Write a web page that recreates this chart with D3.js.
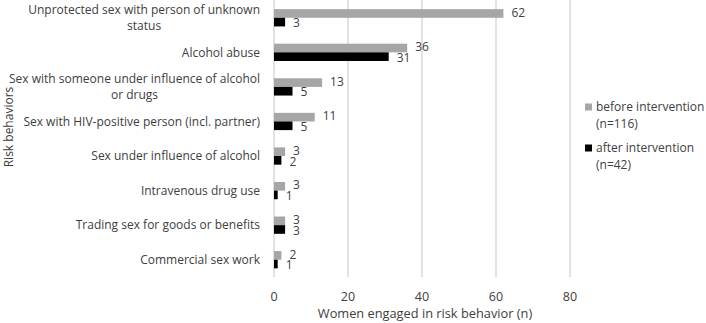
<!DOCTYPE html>
<html lang="en">
	<head>
		<meta charset="utf-8">
		<title>Risk behaviors</title>
		<script type="text/javascript" src="https://cdn.jsdelivr.net/npm/d3@7"></script>
		<style type="text/css">
			body { margin: 0; background: #fff; }
			text { font-family: "Open Sans", sans-serif; fill: #404040; }
		</style>
	</head>
	<body>
		<script type="text/javascript">

			// categories (top to bottom), label lines as wrapped in the original
			var categories = [
				["Unprotected sex with person of unknown", "status"],
				["Alcohol abuse"],
				["Sex with someone under influence of alcohol", "or drugs"],
				["Sex with HIV-positive person (incl. partner)"],
				["Sex under influence of alcohol"],
				["Intravenous drug use"],
				["Trading sex for goods or benefits"],
				["Commercial sex work"]
			];
			var before = [62, 36, 13, 11, 3, 3, 3, 2];
			var after = [3, 31, 5, 5, 2, 1, 3, 1];
			var xTicks = [0, 20, 40, 60, 80];
			var seriesNames = [["before intervention", "(n=116)"], ["after intervention", "(n=42)"]];
			var seriesColors = ["#a6a6a6", "#000000"];

			var w = 706;
			var h = 323;
			var plotLeft = 274, plotRight = 570, plotTop = 0.5, plotBottom = 277;

			var xScale = d3.scaleLinear().domain([0, 80]).range([plotLeft, plotRight]);
			var yScale = d3.scaleBand().domain(d3.range(categories.length)).range([plotTop, plotBottom]).paddingInner(0.5).paddingOuter(0.25);
			var sub = d3.scaleBand().domain([0, 1]).range([0, yScale.bandwidth()]);

			var svg = d3.select("body").append("svg").attr("width", w).attr("height", h);

			// gridlines
			svg.selectAll("line.grid")
			   .data(xTicks)
			   .enter()
			   .append("line")
			   .attr("class", "grid")
			   .attr("x1", function(d) { return xScale(d); })
			   .attr("x2", function(d) { return xScale(d); })
			   .attr("y1", 0)
			   .attr("y2", plotBottom)
			   .attr("stroke", "#d9d9d9")
			   .attr("stroke-width", 1.5);

			// x tick labels
			svg.selectAll("text.tick")
			   .data(xTicks)
			   .enter()
			   .append("text")
			   .attr("class", "tick")
			   .attr("x", function(d) { return xScale(d); })
			   .attr("y", 301)
			   .attr("text-anchor", "middle")
			   .attr("font-size", "12.5px")
			   .text(function(d) { return d; });

			svg.append("text")
			   .attr("x", xScale(40) + 3)
			   .attr("y", 318)
			   .attr("text-anchor", "middle")
			   .attr("font-size", "12.8px")
			   .text("Women engaged in risk behavior (n)");

			svg.append("text")
			   .attr("transform", "translate(13,127) rotate(-90)")
			   .attr("text-anchor", "middle")
			   .attr("font-size", "12px")
			   .text("Risk behaviors");

			// bars
			var series = [before, after];
			series.forEach(function(vals, si) {
				svg.selectAll("rect.s" + si)
				   .data(vals)
				   .enter()
				   .append("rect")
				   .attr("class", "s" + si)
				   .attr("x", xScale(0))
				   .attr("y", function(d, i) { return yScale(i) + sub(si); })
				   .attr("width", function(d) { return xScale(d) - xScale(0); })
				   .attr("height", sub.bandwidth())
				   .attr("fill", seriesColors[si]);

				svg.selectAll("text.v" + si)
				   .data(vals)
				   .enter()
				   .append("text")
				   .attr("class", "v" + si)
				   .attr("x", function(d) { return xScale(d) + 8; })
				   .attr("y", function(d, i) {
					return yScale(i) + sub(si) + sub.bandwidth() / 2 + (si == 0 ? -1 : 1);
				   })
				   .attr("dy", "0.35em")
				   .attr("font-size", "12px")
				   .text(function(d) { return d; });
			});

			// category labels, wrapped lines centred within a right-aligned block
			var lineH = 16.5;
			categories.forEach(function(lines, i) {
				var g = svg.append("g");
				var cy = yScale(i) + yScale.bandwidth() / 2;
				var texts = lines.map(function(l, k) {
					return g.append("text")
					   .attr("y", cy + (k - (lines.length - 1) / 2) * lineH)
					   .attr("dy", "0.35em")
					   .attr("font-size", "12px")
					   .attr("text-anchor", "middle")
					   .text(l);
				});
				var maxW = d3.max(texts, function(t) { return t.node().getComputedTextLength(); });
				texts.forEach(function(t) { t.attr("x", 260 - maxW / 2); });
			});

			// legend
			var legendY = [107, 148];
			seriesNames.forEach(function(lines, si) {
				svg.append("rect")
				   .attr("x", 585)
				   .attr("y", legendY[si] - 3.5)
				   .attr("width", 7)
				   .attr("height", 7)
				   .attr("fill", seriesColors[si]);
				lines.forEach(function(l, k) {
					svg.append("text")
					   .attr("x", 596)
					   .attr("y", legendY[si] + k * 17)
					   .attr("dy", "0.35em")
					   .attr("font-size", "12px")
					   .text(l);
				});
			});

		</script>
	</body>
</html>
